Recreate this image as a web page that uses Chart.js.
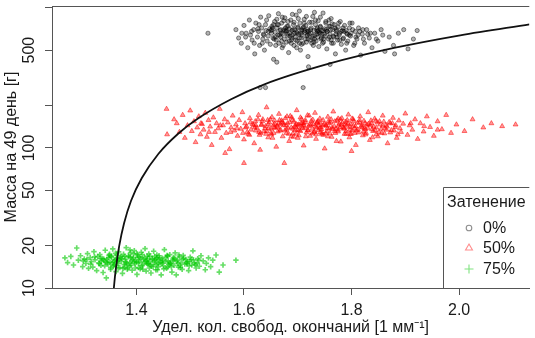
<!DOCTYPE html>
<html>
<head>
<meta charset="utf-8">
<script src="https://cdn.jsdelivr.net/npm/chart.js"></script>
<style>
  html, body { margin: 0; padding: 0; background: #fff; }
  #c { display: block; }
</style>
</head>
<body>
<canvas id="c" width="535" height="338"></canvas>
<script>
// axis ticks
var xTicks = [1.4, 1.6, 1.8, 2.0];
var yTicks = [10, 20, 50, 100, 200, 500, 1000];
var yTickLabels = ['10', '20', '50', '100', '', '500', ''];

var groups = ['0%', '50%', '75%'];

// shading 0% (black circles)
var x0 = [1.533,1.585,1.590,1.595,1.600,1.604,1.607,1.610,1.612,1.615,1.618,
  1.620,1.622,1.625,1.627,1.629,1.631,1.633,1.635,1.636,1.638,
  1.640,1.641,1.643,1.645,1.646,1.648,1.649,1.651,1.652,1.654,
  1.655,1.657,1.658,1.660,1.661,1.663,1.664,1.665,1.667,1.668,
  1.670,1.671,1.672,1.674,1.675,1.676,1.678,1.679,1.680,1.681,
  1.683,1.684,1.685,1.687,1.688,1.689,1.690,1.692,1.693,1.694,
  1.695,1.697,1.698,1.699,1.700,1.702,1.703,1.704,1.705,1.707,
  1.708,1.709,1.710,1.712,1.713,1.714,1.715,1.717,1.718,1.719,
  1.720,1.722,1.723,1.724,1.725,1.727,1.728,1.729,1.730,1.732,
  1.733,1.734,1.735,1.737,1.738,1.739,1.740,1.742,1.743,1.744,
  1.745,1.747,1.748,1.750,1.751,1.752,1.754,1.755,1.757,1.758,
  1.760,1.762,1.763,1.765,1.767,1.768,1.770,1.772,1.774,1.775,
  1.777,1.779,1.781,1.783,1.785,1.787,1.789,1.791,1.793,1.796,
  1.798,1.801,1.804,1.807,1.810,1.813,1.817,1.820,1.824,1.828,
  1.833,1.838,1.843,1.849,1.855,1.862,1.870,1.878,1.887,1.897,
  1.905,1.915,1.922,1.880,1.661,1.720,1.760,1.630,1.640,1.710,
  1.626,1.634,1.642,1.650,1.656,1.662,1.669,1.673,1.677,1.682,
  1.686,1.691,1.696,1.701,1.706,1.711,1.716,1.721,1.726,1.731,
  1.736,1.741,1.746,1.753,1.759,1.764,1.771,1.778,1.784,1.792,
  1.645,1.653,1.666,1.679,1.689,1.699,1.708,1.717,1.728,1.738,
  1.749,1.761,1.773,1.786,1.799,1.637,1.659,1.684,1.703,1.726,
  1.744,1.766,1.690,1.716,1.671,1.742,1.758,1.661,1.703,1.731,
  1.812,1.821,1.835,1.846,1.858,1.614,1.603,1.596,1.619,1.628,
  1.652,1.658,1.664,1.670,1.676,1.682,1.688,1.694,1.700,1.706,
  1.712,1.718,1.724,1.730,1.736,1.742,1.748,1.754,1.760,1.766,
  1.772,1.778,1.784,1.790,1.796,1.802,1.808,1.815,1.822,1.830,
  1.668,1.681,1.693,1.707,1.719,1.733,1.747,1.762,1.776,1.791,
  1.655,1.674,1.698,1.713,1.737,1.752,1.769,1.781,1.797,1.806];
var y0 = [660,700,610,560,750,660,520,820,640,590,700,
  470,780,620,680,540,860,720,600,650,500,
  760,690,580,630,880,710,550,660,740,610,
  430,800,670,590,720,640,910,560,690,620,
  780,520,650,700,600,850,680,570,740,630,
  480,710,660,820,590,690,640,760,540,700,
  620,890,670,580,730,650,610,780,500,690,
  640,720,560,830,670,600,750,630,700,450,
  680,790,590,660,720,610,870,540,690,640,
  760,580,700,620,810,530,670,740,600,690,
  650,920,570,710,630,780,510,680,600,740,
  650,840,560,700,620,760,470,680,590,730,
  640,800,550,690,610,750,500,660,580,720,
  630,780,540,680,600,720,460,650,560,700,
  610,520,660,580,700,490,620,540,660,700,
  510,600,690,470,410,380,395,270,270,270,
  710,560,820,690,600,760,660,540,720,800,
  630,700,590,840,660,730,570,650,790,600,
  720,660,560,700,620,770,650,590,720,650,
  680,720,640,690,610,660,700,680,630,690,
  650,700,620,680,660,640,540,580,560,560,
  610,560,900,870,860,860,820,830,950,930,
  640,700,660,600,640,680,620,660,560,760,
  700,620,760,580,690,740,560,660,720,610,
  780,640,700,570,650,730,600,680,740,630,
  700,660,600,690,640,700,620,680,600,650,
  700,650,790,550,600,820,690,590,780,560,
  760,810,520,690,680,800,720,680,780,560];

// shading 50% (red triangles)
var x50 = [1.456,1.457,1.470,1.475,1.480,1.486,1.490,1.495,1.500,1.503,
  1.507,1.510,1.513,1.516,1.519,1.522,1.525,1.528,1.531,1.534,
  1.537,1.540,1.543,1.546,1.549,1.552,1.555,1.558,1.561,1.564,
  1.567,1.570,1.573,1.576,1.579,1.582,1.585,1.588,1.591,1.594,
  1.597,1.600,1.602,1.605,1.608,1.611,1.613,1.616,1.619,1.621,
  1.624,1.627,1.629,1.632,1.635,1.637,1.640,1.642,1.645,1.647,
  1.650,1.652,1.655,1.657,1.660,1.662,1.665,1.667,1.670,1.672,
  1.674,1.677,1.679,1.681,1.684,1.686,1.688,1.691,1.693,1.695,
  1.698,1.700,1.702,1.705,1.707,1.709,1.711,1.714,1.716,1.718,
  1.720,1.723,1.725,1.727,1.729,1.732,1.734,1.736,1.738,1.741,
  1.743,1.745,1.747,1.750,1.752,1.754,1.756,1.759,1.761,1.763,
  1.766,1.768,1.770,1.773,1.775,1.777,1.780,1.782,1.784,1.787,
  1.789,1.791,1.794,1.796,1.798,1.801,1.803,1.806,1.808,1.811,
  1.813,1.816,1.818,1.821,1.823,1.826,1.829,1.831,1.834,1.837,
  1.840,1.843,1.846,1.849,1.852,1.855,1.858,1.861,1.864,1.867,
  1.870,1.874,1.877,1.881,1.884,1.888,1.892,1.896,1.900,1.904,
  1.908,1.913,1.918,1.923,1.928,1.934,1.940,1.946,1.953,1.960,
  1.968,1.976,1.985,1.995,2.010,2.025,2.045,2.060,2.080,2.105,
  1.675,1.600,1.630,1.565,1.800,
  1.631,1.644,1.653,1.668,1.676,1.689,1.697,1.706,1.713,1.721,
  1.731,1.739,1.748,1.757,1.764,1.772,1.779,1.786,1.793,1.799,
  1.807,1.815,1.822,1.830,1.839,1.848,1.856,1.866,1.876,1.886,
  1.606,1.618,1.587,1.598,1.741,1.711,1.695,1.658,1.727,1.744,
  1.603,1.612,1.622,1.633,1.641,1.649,1.656,1.663,1.671,1.678,
  1.683,1.690,1.696,1.703,1.708,1.715,1.722,1.728,1.735,1.742,
  1.749,1.755,1.762,1.769,1.776,1.783,1.790,1.797,1.804,1.812,
  1.819,1.827,1.836,1.844,1.853,1.862,1.872,1.882,1.610,1.626,
  1.646,1.664,1.682,1.700,1.719,1.737,1.753,1.771,1.788,1.806,
  1.825,1.841,1.860,1.575,1.556,1.535,1.520,1.692,1.734,1.760,
  1.705,1.680,1.650,1.775,1.797,1.890,1.910,1.935,1.960,1.620,
  1.622,1.628,1.634,1.639,1.645,1.651,1.657,1.662,1.668,1.673,
  1.679,1.685,1.691,1.697,1.702,1.708,1.714,1.719,1.725,1.730,
  1.736,1.741,1.747,1.752,1.758,1.764,1.769,1.775,1.781,1.786,
  1.792,1.797,1.803,1.809,1.815,1.820,1.826,1.832,1.838,1.845,
  1.851,1.858,1.865,1.872,1.879,1.642,1.666,1.688,1.711,1.733,
  1.756,1.779,1.801,1.824,1.846,1.655,1.700,1.745,1.790,1.835];
var y50 = [190,125,160,150,130,172,118,145,185,132,
  155,110,140,168,125,148,135,178,120,158,
  142,105,165,130,150,138,190,118,145,160,
  128,152,98,140,170,133,147,122,158,137,
  180,115,150,142,126,163,135,148,108,155,
  139,172,124,146,160,131,143,195,119,152,
  137,166,128,149,102,141,175,133,157,121,
  145,163,136,150,112,169,140,127,154,144,
  186,118,147,132,161,139,104,153,129,171,
  143,122,156,137,148,178,116,151,134,162,
  141,125,158,99,146,131,167,138,152,120,
  182,143,128,157,135,149,111,163,140,126,
  154,144,173,119,148,133,160,138,105,151,
  129,168,142,123,156,136,147,180,114,150,
  132,162,140,121,155,137,170,127,146,108,
  153,134,164,141,118,157,130,149,176,124,
  145,135,160,116,150,131,168,141,122,155,
  136,172,128,147,132,160,140,150,143,147,
  78,78,97,92,95,
  128,158,118,147,133,165,126,150,138,170,
  131,145,124,155,140,112,160,137,150,126,
  143,158,131,139,119,152,128,142,150,125,
  130,145,138,128,152,146,134,139,127,136,
  140,152,133,147,126,160,140,131,153,145,
  126,158,141,134,150,121,146,159,140,129,
  148,138,160,132,145,152,126,141,155,135,
  146,128,157,134,147,138,129,145,124,160,
  138,150,139,146,133,155,144,137,147,128,
  150,142,154,130,145,130,150,120,125,127,
  165,168,128,162,135,138,150,143,135,140,
  145,130,155,138,148,125,157,144,135,150,
  128,153,137,148,123,142,158,134,147,129,
  152,138,145,127,150,136,155,131,147,139,
  158,126,144,133,152,140,125,148,136,156,
  130,144,135,150,133,132,158,121,150,142,
  121,140,162,138,125,146,135,128,132,145];

// shading 75% (green crosses)
var x75 = [1.267,1.272,1.278,1.283,1.289,1.292,1.296,1.300,1.303,1.306,
  1.309,1.311,1.314,1.316,1.319,1.321,1.323,1.326,1.328,1.330,
  1.332,1.334,1.336,1.338,1.340,1.342,1.344,1.345,1.347,1.349,
  1.351,1.352,1.354,1.356,1.357,1.359,1.361,1.362,1.364,1.366,
  1.367,1.369,1.371,1.372,1.374,1.376,1.377,1.379,1.381,1.382,
  1.384,1.386,1.387,1.389,1.391,1.392,1.394,1.396,1.397,1.399,
  1.401,1.402,1.404,1.406,1.407,1.409,1.411,1.413,1.414,1.416,
  1.418,1.420,1.421,1.423,1.425,1.427,1.429,1.431,1.432,1.434,
  1.436,1.438,1.440,1.442,1.444,1.446,1.448,1.450,1.452,1.454,
  1.456,1.458,1.460,1.462,1.464,1.466,1.468,1.470,1.472,1.474,
  1.476,1.478,1.480,1.483,1.485,1.487,1.490,1.492,1.495,1.497,
  1.500,1.503,1.505,1.508,1.511,1.514,1.517,1.520,1.524,1.528,
  1.530,1.534,1.538,1.542,1.548,1.554,1.561,1.585,
  1.335,1.348,1.358,1.368,1.378,1.388,1.398,1.408,1.418,1.428,
  1.438,1.448,1.458,1.468,1.378,1.395,1.412,1.425,1.441,1.362,
  1.352,1.388,1.405,1.422,1.436,
  1.331,1.339,1.346,1.353,1.360,1.365,1.370,1.375,1.380,1.385,
  1.390,1.393,1.400,1.403,1.410,1.415,1.419,1.424,1.430,1.433,
  1.437,1.443,1.447,1.451,1.455,1.461,1.465,1.471,1.477,1.482,
  1.488,1.493,1.498,1.506,1.513,1.322,1.315,1.308,1.301,1.355,
  1.333,1.341,1.350,1.358,1.366,1.373,1.381,1.389,1.396,1.404,
  1.411,1.419,1.426,1.434,1.441,1.449,1.457,1.463,1.469,1.475,
  1.481,1.486,1.494,1.502,1.509,1.343,1.363,1.383,1.401,1.421,
  1.439,1.459,1.479,1.499,1.516];
var y75 = [16.4,15.2,16.8,14.6,19.3,15.8,17.0,14.2,16.1,15.0,
  17.6,13.8,16.5,15.4,14.1,18.2,15.9,13.3,16.8,15.1,
  17.3,14.5,16.2,12.9,15.7,18.6,11.8,16.0,14.8,17.1,
  15.3,13.6,16.6,19.0,14.3,15.8,17.7,13.1,16.3,15.0,
  18.1,14.0,16.9,15.5,12.7,17.4,14.7,16.1,19.4,15.2,
  13.9,16.7,14.4,17.9,15.6,13.4,16.4,18.5,14.9,15.9,
  12.5,17.2,15.1,16.6,13.7,18.0,14.6,16.0,15.3,19.1,
  13.2,16.8,14.8,17.5,15.4,12.8,16.2,14.2,18.3,15.7,
  13.5,16.5,14.9,17.0,15.2,12.4,16.3,14.4,18.8,15.5,
  13.8,16.9,14.7,17.3,15.0,13.0,16.1,14.5,17.8,12.4,
  15.8,14.1,16.7,15.2,13.6,17.1,14.8,16.0,15.4,13.3,
  16.6,14.6,18.4,15.1,13.9,16.2,14.3,17.0,15.6,13.5,
  15.0,16.4,14.2,15.8,17.2,13.0,14.6,15.8,
  15.5,16.4,14.6,15.9,16.8,15.1,13.9,16.2,15.6,14.3,
  17.2,15.0,14.1,15.7,14.0,17.5,13.6,16.9,15.9,16.0,
  14.0,18.7,15.5,14.9,16.0,
  14.9,16.1,15.2,16.9,14.7,15.6,16.4,13.8,15.4,17.0,
  14.5,16.0,15.3,16.7,14.4,16.5,15.0,13.9,16.0,15.2,
  14.7,16.4,15.3,13.7,16.6,15.1,14.2,16.2,15.0,14.0,
  16.3,15.2,14.4,15.9,15.0,16.7,14.8,16.0,15.6,15.1,
  16.3,14.4,17.4,15.4,13.9,16.2,14.8,16.6,15.3,14.0,
  17.3,15.6,14.6,16.8,14.2,15.8,17.1,14.9,16.5,15.5,
  14.5,16.1,14.9,16.0,14.7,15.3,17.2,13.6,17.6,16.1,
  13.5,15.6,17.2,15.5,15.8];

// fitted curve
var curveX = [1.358,1.360,1.362,1.368,1.377,1.390,1.410,1.441,1.478,1.515,1.576,1.638,1.758,1.879,2.002,2.131];
var curveY = [10,12,14,20,29,42,61,91,127,163,223,285,400,518,638,764];

var FONT = '"Liberation Sans", Arial, Helvetica, sans-serif';
var AXIS_COL = '#555';
var TEXT_COL = '#1a1a1a';

function toPoints(xs, ys) {
  var out = [];
  for (var i = 0; i < xs.length; i++) out.push({x: xs[i], y: ys[i]});
  return out;
}

// top edge of plot box + legend box
var framePlugin = {
  id: 'frame',
  afterDraw: function (chart) {
    var ctx = chart.ctx;
    var a = chart.chartArea;
    ctx.save();
    ctx.strokeStyle = AXIS_COL;
    ctx.lineWidth = 1;
    ctx.beginPath();
    ctx.moveTo(a.left, a.top + 0.5);
    ctx.lineTo(a.right, a.top + 0.5);
    ctx.stroke();

    // legend
    var lx = 443.5, ly = 187.5;
    ctx.fillStyle = '#fff';
    ctx.fillRect(lx, ly, a.right - lx, a.bottom - ly);
    ctx.beginPath();
    ctx.moveTo(lx, a.bottom);
    ctx.lineTo(lx, ly);
    ctx.lineTo(a.right, ly);
    ctx.stroke();

    ctx.fillStyle = TEXT_COL;
    ctx.font = '16px ' + FONT;
    ctx.textBaseline = 'middle';
    ctx.textAlign = 'left';
    ctx.fillText('Затенение', 447, 203);
    var styles = [
      {s: 'circle', c: 'rgba(0,0,0,0.45)', r: 2.8},
      {s: 'triangle', c: 'rgba(255,0,0,0.45)', r: 4},
      {s: 'cross', c: 'rgba(0,200,0,0.5)', r: 4.5}
    ];
    var rows = [228, 248, 269];
    for (var i = 0; i < groups.length; i++) {
      ctx.strokeStyle = styles[i].c;
      ctx.fillStyle = 'rgba(0,0,0,0)';
      ctx.lineWidth = 1.1;
      Chart.helpers.drawPoint(ctx, {pointStyle: styles[i].s, radius: styles[i].r, borderWidth: 1.1, rotation: 0}, 469, rows[i]);
      ctx.fillStyle = TEXT_COL;
      ctx.fillText(groups[i], 483, rows[i] + 1);
    }
    ctx.restore();
  }
};

var data = {
  datasets: [
    {
      type: 'scatter', label: groups[0], data: toPoints(x0, y0),
      pointStyle: 'circle', pointRadius: 2.1, borderWidth: 1,
      borderColor: 'rgba(0,0,0,0.45)', backgroundColor: 'rgba(0,0,0,0.3)', order: 3
    },
    {
      type: 'scatter', label: groups[1], data: toPoints(x50, y50),
      pointStyle: 'triangle', pointRadius: 2.8, borderWidth: 1,
      borderColor: 'rgba(255,0,0,0.5)', backgroundColor: 'rgba(255,0,0,0.4)', order: 2
    },
    {
      type: 'scatter', label: groups[2], data: toPoints(x75, y75),
      pointStyle: 'cross', pointRadius: 2.7, borderWidth: 1.7,
      borderColor: 'rgba(0,200,0,0.6)', backgroundColor: 'rgba(0,200,0,0.6)', order: 1
    },
    {
      type: 'line', label: 'fit', data: toPoints(curveX, curveY),
      borderColor: '#111', borderWidth: 1.8, pointRadius: 0,
      cubicInterpolationMode: 'monotone', fill: false, order: 0
    }
  ]
};

var options = {
  responsive: false,
  animation: false,
  events: [],
  layout: { padding: { top: 6, right: 0, left: 0, bottom: 0 } },
  plugins: {
    legend: { display: false },
    tooltip: { enabled: false }
  },
  scales: {
    x: {
      type: 'linear',
      min: 1.243,
      max: 2.1305,
      afterBuildTicks: function (s) { s.ticks = xTicks.map(function (v) { return {value: v}; }); },
      afterFit: function (s) { s.height = 50; s.paddingLeft = 0; s.paddingRight = 0; },
      grid: { drawOnChartArea: false, drawTicks: true, tickLength: 7, color: AXIS_COL },
      border: { color: AXIS_COL, width: 1 },
      ticks: {
        autoSkip: false, maxRotation: 0, padding: 6, color: TEXT_COL,
        font: { family: FONT, size: 16 },
        callback: function (v) { return v.toFixed(1); }
      },
      title: {
        display: true, text: 'Удел. кол. свобод. окончаний [1 мм⁻¹]',
        color: TEXT_COL, font: { family: FONT, size: 16 },
        padding: { top: 0, bottom: 1 }
      }
    },
    y: {
      type: 'logarithmic',
      min: 10,
      max: 1033,
      afterBuildTicks: function (s) { s.ticks = yTicks.map(function (v) { return {value: v}; }); },
      afterFit: function (s) { s.width = 52; s.paddingTop = 0; s.paddingBottom = 0; },
      grid: { drawOnChartArea: false, drawTicks: true, tickLength: 7, color: AXIS_COL },
      border: { color: AXIS_COL, width: 1 },
      ticks: {
        autoSkip: false, minRotation: 90, maxRotation: 90, crossAlign: 'center',
        padding: 2, color: TEXT_COL,
        font: { family: FONT, size: 16 },
        callback: function (v) {
          var i = yTicks.indexOf(v);
          return i >= 0 ? yTickLabels[i] : '';
        }
      },
      title: {
        display: true, text: 'Масса на 49 день [г]',
        color: TEXT_COL, font: { family: FONT, size: 16 },
        padding: { top: 2, bottom: 0 }
      }
    }
  }
};

new Chart(document.getElementById('c'), {
  type: 'scatter',
  data: data,
  options: options,
  plugins: [framePlugin]
});
</script>
</body>
</html>
